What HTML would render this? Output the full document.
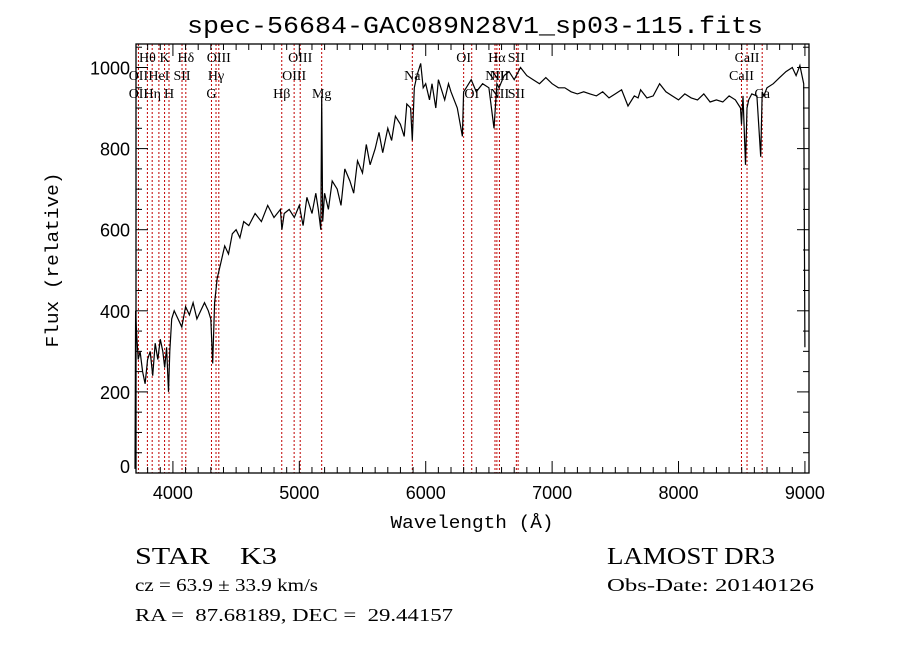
<!DOCTYPE html>
<html><head><meta charset="utf-8">
<style>
html,body{margin:0;padding:0;background:#fff;}
svg{display:block;}
.ser{font-family:"Liberation Serif",serif;}
.san{font-family:"Liberation Sans",sans-serif;}
.mono{font-family:"Liberation Mono",monospace;}
</style></head>
<body>
<svg id="chart" width="900" height="649" viewBox="0 0 900 649">
<rect width="900" height="649" fill="#fff"/>
<text x="475" y="33" text-anchor="middle" class="mono" font-size="24" textLength="576" lengthAdjust="spacingAndGlyphs">spec-56684-GAC089N28V1_sp03-115.fits</text>
<text transform="translate(58,260) rotate(-90)" text-anchor="middle" class="mono" font-size="18" textLength="175" lengthAdjust="spacingAndGlyphs">Flux (relative)</text>
<text x="472" y="528" text-anchor="middle" class="mono" font-size="18" textLength="163" lengthAdjust="spacingAndGlyphs">Wavelength (Å)</text>
<g id="lines"></g>
<g id="labels"></g>
<path id="spec" fill="none" stroke="#000" stroke-width="1.2"/>
<g id="axes"></g>
<text x="135" y="564" class="ser" font-size="24" textLength="142" lengthAdjust="spacingAndGlyphs" xml:space="preserve">STAR    K3</text>
<text x="607" y="564" class="ser" font-size="24" textLength="168" lengthAdjust="spacingAndGlyphs">LAMOST DR3</text>
<text x="135" y="591" class="ser" font-size="18" textLength="183" lengthAdjust="spacingAndGlyphs">cz = 63.9 ± 33.9 km/s</text>
<text x="607" y="591" class="ser" font-size="18" textLength="207" lengthAdjust="spacingAndGlyphs">Obs-Date: 20140126</text>
<text x="135" y="621" class="ser" font-size="18" xml:space="preserve" textLength="318" lengthAdjust="spacingAndGlyphs">RA =  87.68189, DEC =  29.44157</text>
</svg>
<script>
const waves=[3700,3705,3712,3725,3740,3760,3780,3800,3820,3840,3860,3880,3900,3920,3935,3950,3965,3975,3990,4010,4040,4070,4100,4130,4160,4190,4220,4250,4280,4300,4315,4330,4350,4380,4410,4440,4470,4500,4530,4560,4600,4650,4700,4750,4800,4850,4862,4880,4920,4960,5000,5030,5060,5100,5130,5150,5170,5177,5185,5200,5230,5260,5300,5330,5360,5400,5430,5460,5500,5530,5560,5600,5630,5660,5700,5730,5760,5800,5830,5850,5880,5894,5910,5930,5960,5980,6000,6030,6050,6080,6100,6150,6180,6200,6250,6290,6300,6320,6360,6400,6450,6500,6540,6563,6580,6620,6660,6700,6750,6800,6850,6900,6950,7000,7050,7100,7150,7200,7250,7300,7350,7400,7450,7500,7550,7600,7650,7680,7700,7750,7800,7850,7900,7950,8000,8050,8100,8150,8200,8250,8300,8350,8400,8450,8490,8498,8510,8530,8542,8555,8580,8620,8650,8662,8675,8700,8750,8800,8850,8900,8930,8960,8990,9000,9002];
const flux=[10,400,350,280,300,250,220,280,300,240,320,280,330,300,260,310,200,300,380,400,380,360,410,390,420,380,400,420,400,380,270,420,480,520,560,540,590,600,580,620,610,640,620,660,630,650,600,640,650,630,660,610,680,640,690,650,600,930,620,690,650,720,700,660,750,720,690,770,740,810,760,800,840,790,850,820,880,860,830,910,900,820,950,980,1010,950,960,920,960,900,970,920,960,940,900,830,940,950,970,940,960,950,850,960,950,980,990,970,1000,980,970,960,975,960,950,950,940,935,940,935,930,940,925,935,945,905,930,925,945,925,930,960,940,930,920,935,925,920,935,915,920,915,930,920,900,860,930,760,900,920,935,930,780,940,930,950,960,975,990,1000,980,1005,960,310];
const lineWaves=[3727,3798,3836,3889,3934,3969,4072,4102,4305,4341,4363,4861,4959,5007,5177,5894,6300,6364,6548,6563,6583,6717,6731,8498,8542,8662];
const labelText=["Hθ","K","Hδ","OIII","OIII","OI","Hα","SII","CaII","OII","HeI","SII","Hγ","OIII","Na","NII","NII","CaII","OII","Hη","H","G","Hβ","Mg","OI","NII","SII","Ca"];
const labelRow=[0,0,0,0,0,0,0,0,0,1,1,1,1,1,1,1,1,1,2,2,2,2,2,2,2,2,2,2];
const labelWave=[3798,3934,4102,4363,5007,6300,6563,6717,8542,3727,3889,4072,4341,4959,5894,6548,6583,8498,3727,3836,3969,4305,4861,5177,6364,6583,6717,8662];
const xTicks=[4000,5000,6000,7000,8000,9000];
const yTicks=[0,200,400,600,800,1000];

const NS="http://www.w3.org/2000/svg";
const X0=135,Y0=473,PX=0.1264,PY=0.4055,LEFT=136,RIGHT=809,TOP=44;
function xs(w){return X0+(w-3700)*PX;}
function ys(f){return Y0-f*PY;}
function mk(tag,attrs,parent){const e=document.createElementNS(NS,tag);for(const k in attrs)e.setAttribute(k,attrs[k]);parent.appendChild(e);return e;}

const gl=document.getElementById('lines');
lineWaves.forEach(w=>{
  const l=mk('line',{x1:xs(w),x2:xs(w),y1:TOP,y2:Y0,stroke:'#c00000','stroke-width':1,'stroke-dasharray':'2,2'},gl);
  
  
});
const glab=document.getElementById('labels');
labelText.forEach((t,i)=>{
  const e=mk('text',{x:xs(labelWave[i]),y:62+labelRow[i]*18,'text-anchor':'middle','font-size':14,'class':'ser'},glab);
  e.textContent=t;
  
  
});
let d='';
waves.forEach((w,i)=>{d+=(i?'L':'M')+xs(w).toFixed(1)+','+ys(flux[i]).toFixed(1);});
document.getElementById('spec').setAttribute('d',d);

const ga=document.getElementById('axes');
const frame=mk('rect',{x:LEFT,y:TOP,width:RIGHT-LEFT,height:Y0-TOP,fill:'none',stroke:'#000','stroke-width':1.3},ga);


for(let w=3800;w<=9000;w+=100){
  const major=w%1000===0,len=major?12:6;
  mk('line',{x1:xs(w),x2:xs(w),y1:Y0,y2:Y0-len,stroke:'#000'},ga);
  mk('line',{x1:xs(w),x2:xs(w),y1:TOP,y2:TOP+len,stroke:'#000'},ga);
}
for(let f=0;f<=1050;f+=50){
  const major=f%200===0,len=major?12:6;
  mk('line',{x1:LEFT,x2:LEFT+len,y1:ys(f),y2:ys(f),stroke:'#000'},ga);
  mk('line',{x1:RIGHT,x2:RIGHT-len,y1:ys(f),y2:ys(f),stroke:'#000'},ga);
}
xTicks.forEach(w=>{
  const t=mk('text',{x:xs(w),y:Y0+26,'text-anchor':'middle','font-size':18,'class':'san'},ga);
  t.textContent=w;
  
  
});
yTicks.forEach(f=>{
  const t=mk('text',{x:LEFT-6,y:ys(f)+(f===0?0:7),'text-anchor':'end','font-size':18,'class':'san'},ga);
  t.textContent=f;
  
  
});
</script>
</body></html>
